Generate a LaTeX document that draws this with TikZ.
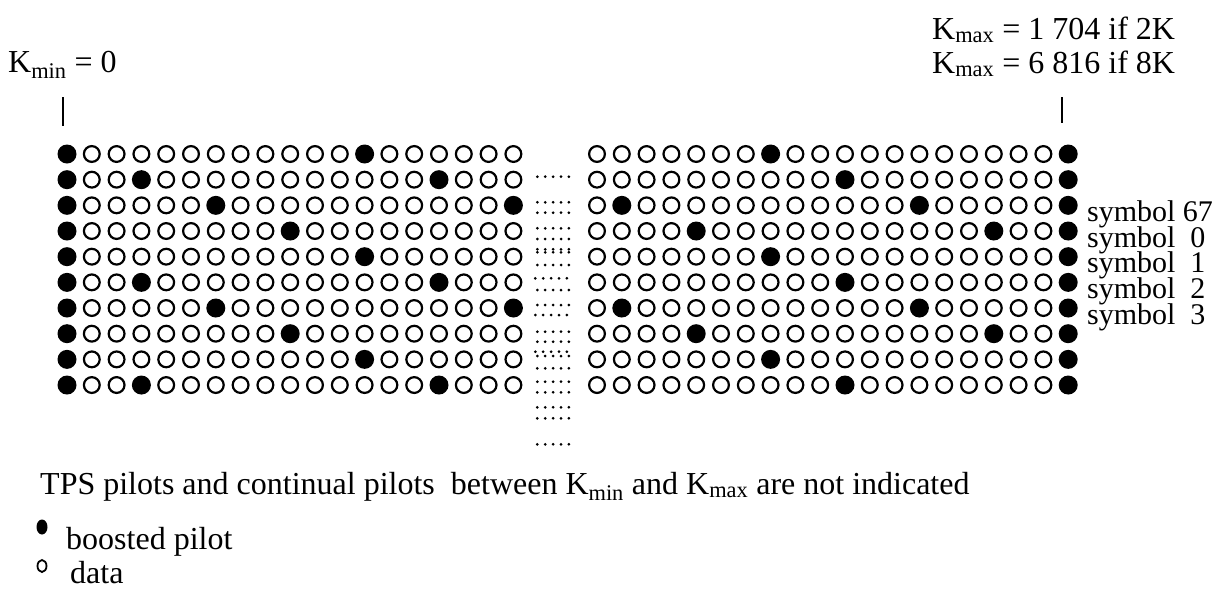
\documentclass[tikz,border=0pt]{standalone}
\usepackage{fontspec}
\setmainfont{Liberation Serif}
\usetikzlibrary{positioning}

\tikzset{
  pilot/.style={circle, fill=black, inner sep=0pt, minimum size=19pt},
  datacell/.style={circle, draw=black, line width=2.2pt, inner sep=0pt, minimum size=15.8pt},
  lbl/.style={inner sep=0pt, anchor=base west, font=\fontsize{32}{36}\selectfont},
  symlbl/.style={inner sep=0pt, font=\fontsize{30}{32}\selectfont},
  tick/.style={line width=2pt},
  gapdot/.style={fill=black},
}

\begin{document}
\begin{tikzpicture}[x=1pt, y=-1pt]
    \useasboundingbox (0,0) rectangle (1220,590);

    % Edge labels
    \node[lbl] (kmin) at (8,72) {K\textsubscript{min} = 0};
    \node[lbl] (kmax2k) at (932,39) {K\textsubscript{max} = 1 704 if 2K};
    \node[lbl] (kmax8k) at (932,73) {K\textsubscript{max} = 6 816 if 8K};

    % Ticks
    \coordinate (kmin-top) at (63,97);
    \coordinate (kmin-bot) at (63,126);
    \coordinate (kmax-top) at (1062,97);
    \coordinate (kmax-bot) at (1062,123);
    \draw[tick] (kmin-top) -- (kmin-bot);
    \draw[tick] (kmax-top) -- (kmax-bot);

    % Carriers, left part (from K_min)
    \foreach \r in {0,...,9}{
      \foreach \i in {0,...,18}{
        \pgfmathtruncatemacro\isp{(\i==0)||(mod(\i,12)==mod(3*\r,12))}
        \ifnum\isp=1
          \node[pilot] (L-\r-\i) at ({67+24.8*\i},{154+25.67*\r}) {};
        \else
          \node[datacell] (L-\r-\i) at ({67+24.8*\i},{154+25.67*\r}) {};
        \fi
      }
    }

    % Carriers, right part (up to K_max)
    \foreach \r in {0,...,9}{
      \foreach \j in {0,...,19}{
        \pgfmathtruncatemacro\isp{(\j==19)||(mod(\j,12)==mod(7+3*\r,12))}
        \ifnum\isp=1
          \node[pilot] (R-\r-\j) at ({597+24.8*\j},{154+25.67*\r}) {};
        \else
          \node[datacell] (R-\r-\j) at ({597+24.8*\j},{154+25.67*\r}) {};
        \fi
      }
    }

    % Gap between the two parts
    \foreach \y/\dx in {176.7/0, 202.3/0, 212.7/0, 228.3/0, 239/0, 249.3/0,
        252.3/0, 265/0, 278.3/-2, 290/0, 305/0, 315/-2, 331.7/0, 341.7/0,
        351.7/-2, 356/0, 368.3/0, 381.7/0, 392.3/0, 407.3/0, 418.3/0, 444.3/0}{
      \foreach \k in {0,...,4}
        \fill[gapdot] ({537.3+\dx+7.9*\k},\y) circle (1.5);
    }

    % Symbol numbers
    \node[symlbl, right=9pt of R-2-19, yshift=-9pt] (sym67) {symbol 67};
    \node[symlbl, right=9pt of R-3-19, yshift=-9pt] (sym0) {symbol\ \ 0};
    \node[symlbl, right=9pt of R-4-19, yshift=-9pt] (sym1) {symbol\ \ 1};
    \node[symlbl, right=9pt of R-5-19, yshift=-9pt] (sym2) {symbol\ \ 2};
    \node[symlbl, right=9pt of R-6-19, yshift=-9pt] (sym3) {symbol\ \ 3};

    % Note
    \node[lbl] (note) at (40,494) {TPS pilots and continual pilots\ \ between K\textsubscript{min} and K\textsubscript{max} are not indicated};

    % Legend
    \fill (42,527) ellipse (5.5 and 7.5);
    \node[lbl] (keypilot) at (66,549) {boosted pilot};
    \draw[line width=1.8pt] (42,566) ellipse (4.5 and 6);
    \node[lbl] (keydata) at (70,583) {data};
\end{tikzpicture}
\end{document}
